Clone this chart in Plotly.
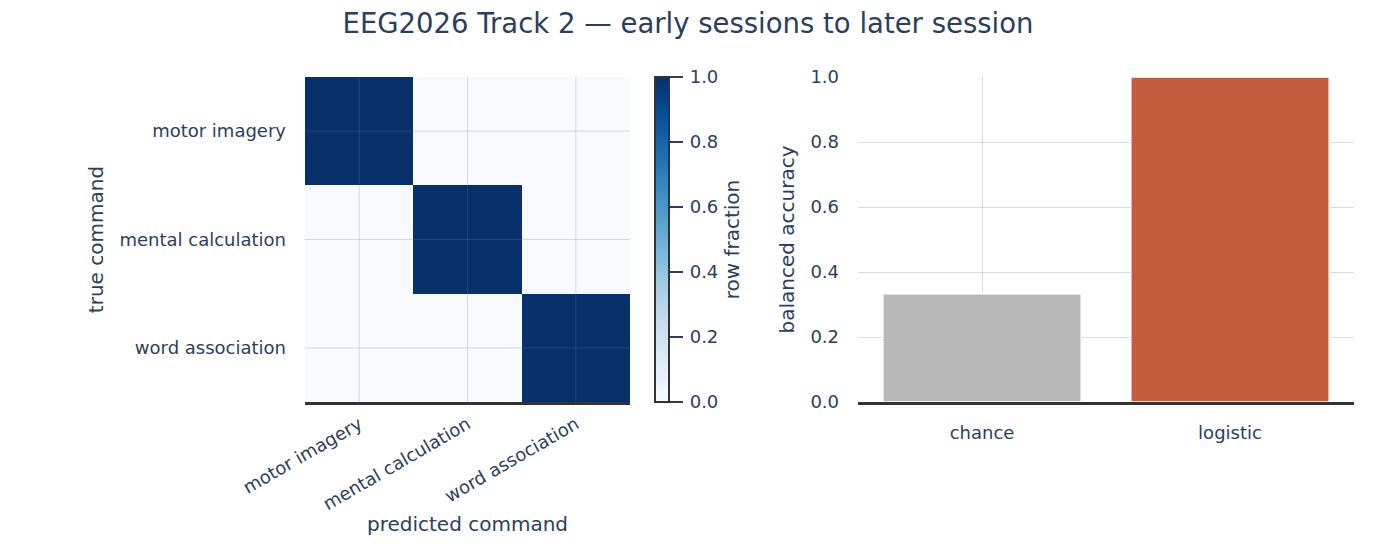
import plotly.graph_objects as go
from plotly.subplots import make_subplots

commands = ["motor imagery", "mental calculation", "word association"]
confusion = [
    [1.0, 0.0, 0.0],
    [0.0, 1.0, 0.0],
    [0.0, 0.0, 1.0],
]
models = ["chance", "logistic"]
balanced_acc = [1 / 3, 1.0]
bar_colors = ["#b8b8b8", "#c45c3d"]

font_color = "#2a3f5f"
grid_color = "rgba(115,126,154,0.28)"
axis_line = "#333333"

fig = make_subplots(rows=1, cols=2)

fig.add_trace(go.Heatmap(
    z=confusion, x=commands, y=commands,
    colorscale="Blues", zmin=0, zmax=1,
    colorbar=dict(
        title=dict(text="row fraction", side="right", font=dict(size=20)),
        x=0.4435, xanchor="left", y=0.5, len=1.0, ypad=0, thickness=14,
        outlinewidth=2, outlinecolor=axis_line,
        ticks="outside", ticklen=13, tickcolor=font_color, tickwidth=2,
        tickformat=".1f", dtick=0.2, tickfont=dict(size=18),
        tickprefix="\u2009",
    ),
    hovertemplate="true %{y}<br>pred %{x}<br>%{z:.2f}<extra></extra>",
), row=1, col=1)

# grid lines drawn over the heatmap cells
for c in commands:
    fig.add_shape(type="line", xref="x", yref="y domain", x0=c, x1=c, y0=0, y1=1,
                  line=dict(color=grid_color, width=1), layer="above")
    fig.add_shape(type="line", xref="x domain", yref="y", x0=0, x1=1, y0=c, y1=c,
                  line=dict(color=grid_color, width=1), layer="above")

fig.add_trace(go.Bar(
    x=models, y=balanced_acc,
    marker=dict(color=bar_colors, line=dict(color="white", width=1.5)),
    showlegend=False,
), row=1, col=2)

fig.update_layout(
    template="plotly_white",
    width=1360, height=528,
    margin=dict(l=72, r=14, t=69, b=134, autoexpand=False),
    font=dict(family="DejaVu Sans", size=18, color=font_color),
    title=dict(text="EEG2026 Track 2 — early sessions to later session",
               x=0.5, xanchor="center", y=0.99, yanchor="top", font=dict(size=27.5)),
    bargap=0.2,
    plot_bgcolor="white",
)

fig.update_xaxes(domain=[0.1766, 0.4317], row=1, col=1,
                 title=dict(text="predicted command", font=dict(size=20)),
                 tickangle=-30, showline=True, linecolor=axis_line, linewidth=3,
                 showgrid=False, ticklabelstandoff=2, automargin=False)
fig.update_yaxes(row=1, col=1, autorange="reversed",
                 title=dict(text="true command", font=dict(size=20), standoff=10),
                 showgrid=False, ticklabelstandoff=18, automargin=False)

fig.update_xaxes(domain=[0.6107, 1.0], row=1, col=2,
                 showline=True, linecolor=axis_line, linewidth=3,
                 showgrid=True, gridcolor=grid_color, ticklabelstandoff=12,
                 automargin=False)
fig.update_yaxes(row=1, col=2, range=[0, 1.0], dtick=0.2, tickformat=".1f",
                 title=dict(text="balanced accuracy", font=dict(size=20), standoff=10),
                 showgrid=True, gridcolor=grid_color, zeroline=False,
                 ticklabelstandoff=18, automargin=False)

fig.write_html("out.html")
